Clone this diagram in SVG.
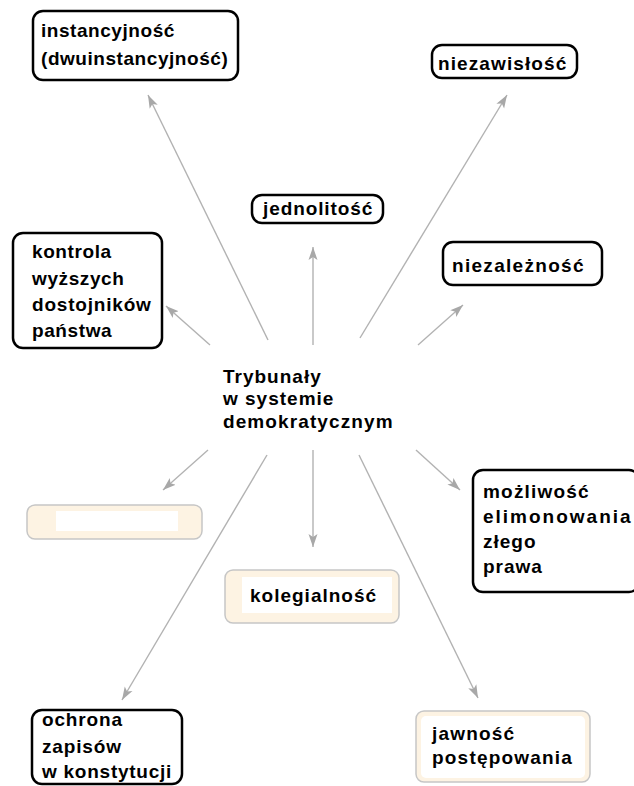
<svg xmlns="http://www.w3.org/2000/svg" width="634" height="786" viewBox="0 0 634 786">
<style>
  text { font-family: "Liberation Sans", Arial, sans-serif; font-weight: bold; font-size: 19px; fill: #000; letter-spacing: 1px; }
  .bk { fill: #fff; stroke: #000; stroke-width: 2.5; }
  .cr { fill: #fdf3e3; stroke: #c6c6c6; stroke-width: 1.5; }
  .in { fill: #fff; }
  .con line { stroke: #b2b2b2; stroke-width: 1.4; marker-end: url(#ah); }
</style>
<defs>
  <marker id="ah" markerUnits="userSpaceOnUse" markerWidth="14" markerHeight="10" refX="13" refY="5" orient="auto">
    <path d="M0,0.5 L13,5 L0,9.5 L3,5 Z" fill="#a8a8a8"/>
  </marker>
</defs>
<rect width="634" height="786" fill="#fff"/>

<g class="con" id="connectors">
  <line x1="268" y1="340" x2="148" y2="95"/>
  <line x1="360" y1="338" x2="507" y2="95"/>
  <line x1="313" y1="345" x2="313" y2="247"/>
  <line x1="210" y1="345" x2="166" y2="306"/>
  <line x1="418" y1="345" x2="463" y2="305"/>
  <line x1="208" y1="450" x2="163" y2="490"/>
  <line x1="313" y1="450" x2="313" y2="547"/>
  <line x1="416" y1="450" x2="460" y2="490"/>
  <line x1="267" y1="455" x2="122" y2="700"/>
  <line x1="359" y1="455" x2="478" y2="698"/>
</g>

<g id="center">
  <text x="223" y="383">Trybunały</text>
  <text x="223" y="405">w systemie</text>
  <text x="223" y="428" style="letter-spacing:1.1px">demokratycznym</text>
</g>

<g id="instancyjnosc">
  <rect class="bk" x="33" y="11" width="205" height="69" rx="10"/>
  <text x="41" y="37" style="letter-spacing:0.55px">instancyjność</text>
  <text x="41" y="65" style="letter-spacing:0.55px">(dwuinstancyjność)</text>
</g>

<g id="niezawislosc">
  <rect class="bk" x="432" y="45" width="145" height="33" rx="10"/>
  <text x="438" y="70" style="letter-spacing:1.1px">niezawisłość</text>
</g>

<g id="jednolitosc">
  <rect class="bk" x="252" y="195" width="131" height="28" rx="10"/>
  <text x="263" y="215" style="letter-spacing:0.9px">jednolitość</text>
</g>

<g id="kontrola">
  <rect class="bk" x="13" y="233" width="149" height="115" rx="10"/>
  <text x="32" y="258" style="letter-spacing:0.6px">kontrola</text>
  <text x="32" y="285" style="letter-spacing:0.6px">wyższych</text>
  <text x="32" y="311" style="letter-spacing:0.8px">dostojników</text>
  <text x="32" y="337" style="letter-spacing:0.6px">państwa</text>
</g>

<g id="niezaleznosc">
  <rect class="bk" x="443" y="242" width="159" height="43" rx="10"/>
  <text x="452" y="272" style="letter-spacing:1.3px">niezależność</text>
</g>

<g id="mozliwosc">
  <rect class="bk" x="473" y="470" width="166" height="122" rx="10"/>
  <text x="483" y="498" style="letter-spacing:1.2px">możliwość</text>
  <text x="483" y="523" style="letter-spacing:2px">elimonowania</text>
  <text x="483" y="548">złego</text>
  <text x="483" y="573">prawa</text>
</g>

<g id="pusty">
  <rect class="cr" x="27" y="505" width="175" height="34" rx="8"/>
  <rect class="in" x="56" y="511" width="122" height="20"/>
</g>

<g id="kolegialnosc">
  <rect class="cr" x="225" y="570" width="174" height="53" rx="8"/>
  <rect class="in" x="242" y="577" width="150" height="36"/>
  <text x="250" y="602">kolegialność</text>
</g>

<g id="ochrona">
  <rect class="bk" x="32" y="710" width="150" height="74" rx="10"/>
  <text x="42" y="726" style="letter-spacing:0.85px">ochrona</text>
  <text x="42" y="753" style="letter-spacing:0.85px">zapisów</text>
  <text x="42" y="778" style="letter-spacing:0.75px">w konstytucji</text>
</g>

<g id="jawnosc">
  <rect class="cr" x="416" y="711" width="174" height="71" rx="8"/>
  <rect class="in" x="421" y="716" width="164" height="62" rx="5"/>
  <text x="432" y="740" style="letter-spacing:1.2px">jawność</text>
  <text x="432" y="764" style="letter-spacing:1.2px">postępowania</text>
</g>
</svg>
